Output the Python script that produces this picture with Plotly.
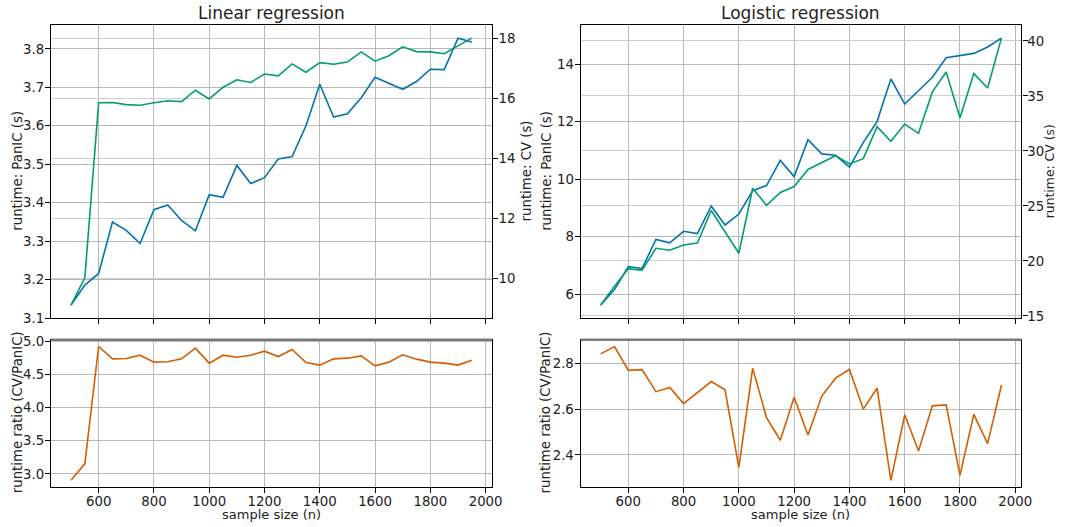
import plotly.graph_objects as go

# ---- data ----
sample_sizes = [500, 550, 600, 650, 700, 750, 800, 850, 900, 950,
                1000, 1050, 1100, 1150, 1200, 1250, 1300, 1350, 1400, 1450,
                1500, 1550, 1600, 1650, 1700, 1750, 1800, 1850, 1900, 1950]

lin_panic = [3.134, 3.186, 3.216, 3.350, 3.328, 3.294, 3.382, 3.394, 3.354, 3.327,
             3.421, 3.414, 3.497, 3.450, 3.465, 3.514, 3.520, 3.600, 3.708, 3.623,
             3.631, 3.673, 3.726, 3.710, 3.695, 3.715, 3.747, 3.746, 3.828, 3.818]
lin_cv = [9.11, 10.02, 15.86, 15.87, 15.80, 15.78, 15.86, 15.93, 15.90, 16.28,
          15.99, 16.38, 16.63, 16.54, 16.82, 16.76, 17.16, 16.88, 17.20, 17.15,
          17.22, 17.56, 17.25, 17.43, 17.73, 17.57, 17.56, 17.50, 17.76, 18.02]
lin_ratio = [2.903, 3.153, 4.925, 4.739, 4.744, 4.794, 4.689, 4.694, 4.739, 4.900,
             4.674, 4.794, 4.764, 4.794, 4.854, 4.774, 4.880, 4.684, 4.644, 4.739,
             4.749, 4.784, 4.634, 4.689, 4.799, 4.734, 4.689, 4.674, 4.644, 4.719]

log_panic = [5.63, 6.17, 6.96, 6.90, 7.91, 7.79, 8.19, 8.11, 9.07, 8.41,
             8.79, 9.60, 9.78, 10.65, 10.09, 11.37, 10.88, 10.83, 10.42, 11.27,
             12.00, 13.48, 12.61, 13.08, 13.54, 14.22, 14.30, 14.37, 14.59, 14.90]
log_cv = [15.99, 17.71, 19.28, 19.16, 21.15, 20.97, 21.45, 21.63, 24.59, 22.69,
          20.70, 26.61, 25.05, 26.22, 26.77, 28.32, 28.91, 29.57, 28.82, 29.30,
          32.20, 30.87, 32.44, 31.60, 35.37, 37.18, 33.02, 37.03, 35.73, 40.26]
log_ratio = [2.841, 2.873, 2.769, 2.772, 2.676, 2.694, 2.624, 2.672, 2.720, 2.684,
             2.346, 2.778, 2.563, 2.464, 2.652, 2.487, 2.657, 2.735, 2.774, 2.600,
             2.691, 2.289, 2.575, 2.417, 2.614, 2.618, 2.311, 2.577, 2.449, 2.704]

x_ticks = [600, 800, 1000, 1200, 1400, 1600, 1800, 2000]

titles = ["Linear regression", "Logistic regression"]
label_panic = "runtime: PanIC (s)"
label_cv = "runtime: CV (s)"
label_ratio = "runtime ratio (CV/PanIC)"
label_x = "sample size (n)"

BLUE = "#0173B2"
GREEN = "#029E73"
ORANGE = "#D55E00"
GRID = "#b8b8b8"
GRID2 = "#cfcfcf"
FONT = "DejaVu Sans"

W, H = 1065, 527

# the photographed page is slightly shrunk/offset; map target picture pixels to figure pixels
SX, AX = 0.9922, -0.6
SY, AY = 0.9773, 4.5


def px_x(p):
    return min(max((p - AX) / SX, 0), W) / W


def px_y(p):
    return 1 - min(max((p - AY) / SY, 0), H) / H


fig = go.Figure()
lw = 1.6
fig.add_trace(go.Scatter(x=sample_sizes, y=lin_panic, mode="lines", line=dict(color=BLUE, width=lw),
                         xaxis="x", yaxis="y", showlegend=False))
fig.add_trace(go.Scatter(x=sample_sizes, y=lin_cv, mode="lines", line=dict(color=GREEN, width=lw),
                         xaxis="x", yaxis="y2", showlegend=False))
fig.add_trace(go.Scatter(x=sample_sizes, y=lin_ratio, mode="lines", line=dict(color=ORANGE, width=lw),
                         xaxis="x2", yaxis="y3", showlegend=False))
fig.add_trace(go.Scatter(x=sample_sizes, y=log_panic, mode="lines", line=dict(color=BLUE, width=lw),
                         xaxis="x3", yaxis="y4", showlegend=False))
fig.add_trace(go.Scatter(x=sample_sizes, y=log_cv, mode="lines", line=dict(color=GREEN, width=lw),
                         xaxis="x3", yaxis="y5", showlegend=False))
fig.add_trace(go.Scatter(x=sample_sizes, y=log_ratio, mode="lines", line=dict(color=ORANGE, width=lw),
                         xaxis="x4", yaxis="y6", showlegend=False))


def auto_range(vals, pad=0.05):
    lo, hi = min(vals), max(vals)
    d = (hi - lo) * pad
    return [lo - d, hi + d]


xr = auto_range(sample_sizes)

left_dom = [px_x(50.5), px_x(492.5)]
right_dom = [px_x(581.5), px_x(1023.5)]
top_dom = [px_y(317.5), px_y(23.3)]
bot_dom = [px_y(486.5), px_y(339)]

tickfont = dict(family=FONT, size=13.3, color="#222")

common_x = dict(range=xr, tickvals=x_ticks, showgrid=True, gridcolor=GRID, gridwidth=1,
                showline=True, linecolor="black", linewidth=1.2, mirror=True,
                ticks="outside", ticklen=5, tickcolor="black", tickfont=tickfont, zeroline=False,
                ticklabelstandoff=-3)
common_y = dict(showgrid=True, gridcolor=GRID, gridwidth=1, showline=True, linecolor="black",
                linewidth=1.2, ticks="outside", ticklen=5, tickcolor="black", tickfont=tickfont,
                zeroline=False, ticklabelstandoff=-2)

fig.update_layout(
    width=W, height=H, autosize=False,
    margin=dict(l=0, r=0, t=0, b=0, pad=0),
    paper_bgcolor="white", plot_bgcolor="white",
    font=dict(family=FONT, size=13.3, color="#222"),
    xaxis=dict(domain=left_dom, anchor="y", showticklabels=False, **common_x),
    xaxis2=dict(domain=left_dom, anchor="y3", **common_x),
    xaxis3=dict(domain=right_dom, anchor="y4", showticklabels=False, **common_x),
    xaxis4=dict(domain=right_dom, anchor="y6", **common_x),
    yaxis=dict(domain=top_dom, anchor="x", range=auto_range(lin_panic),
               tickvals=[3.1, 3.2, 3.3, 3.4, 3.5, 3.6, 3.7, 3.8], tickformat=".1f", **common_y),
    yaxis2=dict(overlaying="y", side="right", anchor="x", range=auto_range(lin_cv),
                tickvals=[10, 12, 14, 16, 18], **{**common_y, "gridcolor": GRID2}),
    yaxis3=dict(domain=bot_dom, anchor="x2", range=auto_range(lin_ratio), mirror=True,
                tickvals=[3.0, 3.5, 4.0, 4.5, 5.0], tickformat=".1f", **common_y),
    yaxis4=dict(domain=top_dom, anchor="x3", range=auto_range(log_panic),
                tickvals=[6, 8, 10, 12, 14], **common_y),
    yaxis5=dict(overlaying="y4", side="right", anchor="x3", range=auto_range(log_cv),
                tickvals=[15, 20, 25, 30, 35, 40],
                **{**common_y, "gridcolor": GRID2, "ticklabelstandoff": -3}),
    yaxis6=dict(domain=bot_dom, anchor="x4", range=auto_range(log_ratio), mirror=True,
                tickvals=[2.4, 2.6, 2.8], tickformat=".1f", **common_y),
)

# grey top edge seen on the lower panels
for xa, ya in (("x2", "y3"), ("x4", "y6")):
    fig.add_shape(type="line", xref=f"{xa} domain", yref=f"{ya} domain", x0=0, x1=1, y0=1, y1=1,
                  line=dict(color="#7a7a7a", width=2.5), layer="above")

ann = []
lab_font = dict(family=FONT, size=13.3, color="#222")
title_font = dict(family=FONT, size=17, color="#222")
for xp, t in ((271.5, titles[0]), (802, titles[1])):
    ann.append(dict(text=t, x=px_x(xp), y=px_y(12), xref="paper", yref="paper",
                    showarrow=False, font=title_font, xanchor="center", yanchor="middle"))
for xp, yp, t in ((17, 170, label_panic), (527, 170, label_cv), (17, 412, label_ratio),
                  (546.5, 170, label_panic), (546.5, 412, label_ratio)):
    ann.append(dict(text=t, x=px_x(xp), y=px_y(yp), xref="paper", yref="paper", textangle=-90,
                    showarrow=False, font=lab_font, xanchor="center", yanchor="middle"))
# right-most label sits against the edge of the picture
ann.append(dict(text=label_cv, x=px_x(1051.2), y=px_y(170), xref="paper", yref="paper",
                textangle=-90, showarrow=False, font=dict(family=FONT, size=12.4, color="#222"),
                xanchor="center", yanchor="middle"))
for xp in (271.5, 802):
    ann.append(dict(text=label_x, x=px_x(xp), y=px_y(513.6), xref="paper", yref="paper",
                    showarrow=False, font=dict(family=FONT, size=13, color="#222"),
                    xanchor="center", yanchor="middle"))
fig.update_layout(annotations=ann)

page_fix = """
(function(){
  var de=document.documentElement, b=document.body;
  de.style.margin='0'; de.style.padding='0'; de.style.overflow='hidden';
  b.style.margin='0'; b.style.padding='0'; b.style.overflow='hidden';
  var d=document.getElementsByClassName('plotly-graph-div')[0];
  if(d){d.style.position='fixed'; d.style.left='0px'; d.style.top='0px';}
})();
"""
fig.write_html("out.html", config={"displayModeBar": False}, post_script=page_fix)
